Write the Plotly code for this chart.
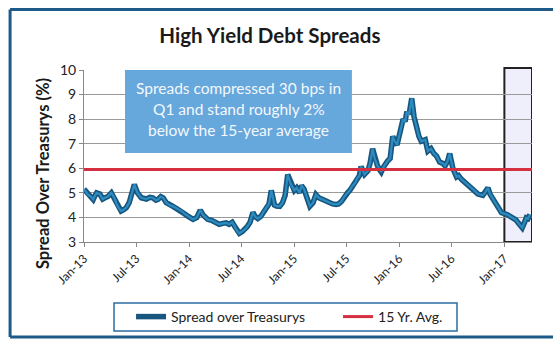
import plotly.graph_objects as go

# Weekly-ish high yield spread over Treasurys (%)
dates = [
    "2013-01-01", "2013-01-08", "2013-01-15", "2013-01-25", "2013-02-02", "2013-02-08",
    "2013-02-14", "2013-02-25", "2013-03-07", "2013-03-15", "2013-03-25", "2013-04-06",
    "2013-04-16", "2013-04-28", "2013-05-10", "2013-05-20", "2013-05-28", "2013-06-07",
    "2013-06-14", "2013-06-25", "2013-07-01", "2013-07-06", "2013-07-19", "2013-07-28",
    "2013-08-06", "2013-08-18", "2013-08-28", "2013-09-08", "2013-09-15", "2013-09-25",
    "2013-10-03", "2013-10-14", "2013-10-25", "2013-11-06", "2013-11-20", "2013-12-06",
    "2013-12-16", "2013-12-28", "2014-01-08", "2014-01-15", "2014-01-28", "2014-02-05",
    "2014-02-09", "2014-02-19", "2014-03-01", "2014-03-07", "2014-03-20", "2014-04-01",
    "2014-04-16", "2014-04-28", "2014-05-10", "2014-05-20", "2014-05-31", "2014-06-08",
    "2014-06-14", "2014-06-25", "2014-07-05", "2014-07-13", "2014-07-22", "2014-08-01",
    "2014-08-11", "2014-08-20", "2014-08-28", "2014-09-08", "2014-09-15", "2014-09-27",
    "2014-10-06", "2014-10-14", "2014-10-20", "2014-10-25", "2014-11-01", "2014-11-12",
    "2014-11-22", "2014-12-01", "2014-12-10", "2014-12-16", "2014-12-21", "2015-01-02",
    "2015-01-10", "2015-01-20", "2015-01-27", "2015-02-05", "2015-02-12", "2015-02-25",
    "2015-03-08", "2015-03-18", "2015-03-28", "2015-04-10", "2015-04-22", "2015-05-04",
    "2015-05-15", "2015-05-27", "2015-06-05", "2015-06-15", "2015-06-25", "2015-07-06",
    "2015-07-14", "2015-07-22", "2015-08-01", "2015-08-09", "2015-08-16", "2015-08-22",
    "2015-09-03", "2015-09-15", "2015-09-22", "2015-10-01", "2015-10-08", "2015-10-18",
    "2015-10-25", "2015-10-31", "2015-11-08", "2015-11-15", "2015-11-22", "2015-12-01",
    "2015-12-10", "2015-12-17", "2015-12-25", "2016-01-04", "2016-01-15", "2016-01-22",
    "2016-01-28", "2016-02-05", "2016-02-14", "2016-02-22", "2016-03-03", "2016-03-10",
    "2016-03-18", "2016-04-01", "2016-04-10", "2016-04-21", "2016-05-01", "2016-05-10",
    "2016-05-21", "2016-06-01", "2016-06-09", "2016-06-18", "2016-06-25", "2016-07-06",
    "2016-07-19", "2016-07-26", "2016-08-05", "2016-08-21", "2016-09-04", "2016-09-18",
    "2016-10-01", "2016-10-18", "2016-10-28", "2016-11-05", "2016-11-12", "2016-11-22",
    "2016-12-01", "2016-12-10", "2016-12-22", "2017-01-10", "2017-01-20", "2017-02-01",
    "2017-02-10", "2017-02-18", "2017-03-04", "2017-03-12", "2017-03-18", "2017-03-24",
    "2017-03-31",
]
spread = [
    5.15, 5.05, 4.93, 4.85, 4.73, 4.88,
    5.00, 4.95, 4.75, 4.80, 4.85, 5.00,
    4.80, 4.46, 4.26, 4.32, 4.40, 4.60,
    4.90, 5.34, 5.15, 5.00, 4.80, 4.78,
    4.75, 4.82, 4.80, 4.70, 4.73, 4.85,
    4.80, 4.60, 4.50, 4.45, 4.35, 4.26,
    4.15, 4.05, 3.98, 3.92, 4.00, 4.20,
    4.30, 4.10, 4.00, 3.92, 3.88, 3.80,
    3.72, 3.76, 3.78, 3.72, 3.80, 3.65,
    3.50, 3.35, 3.42, 3.50, 3.62, 3.80,
    4.20, 4.02, 3.95, 4.05, 4.20, 4.40,
    4.55, 5.10, 4.75, 4.50, 4.46, 4.45,
    4.60, 4.90, 5.74, 5.55, 5.35, 5.10,
    5.20, 5.00, 5.30, 5.15, 4.90, 4.46,
    4.60, 4.93, 4.80, 4.73, 4.65, 4.60,
    4.55, 4.53, 4.55, 4.65, 4.85, 5.00,
    5.10, 5.27, 5.40, 5.60, 5.70, 6.07,
    5.75, 5.90, 6.20, 6.80, 6.40, 6.10,
    5.95, 5.85, 6.05, 6.20, 6.30, 6.40,
    7.30, 7.10, 6.95, 7.45, 8.00, 7.90,
    8.30, 8.20, 8.85, 8.10, 7.60, 7.30,
    7.10, 7.16, 6.70, 6.80, 6.60, 6.50,
    6.25, 6.20, 6.10, 6.30, 6.60, 6.00,
    5.65, 5.70, 5.55, 5.40, 5.25, 5.10,
    4.95, 4.90, 5.05, 5.20, 4.95, 4.75,
    4.55, 4.39, 4.19, 4.12, 4.05, 3.98,
    3.90, 3.78, 3.58, 3.80, 3.98, 3.95,
    4.12,
]

avg_15yr = 5.95
x_range = ["2013-01-01", "2017-04-07"]
q1_start = "2017-01-01"
y_range = [3, 10]

callout_lines = [
    "Spreads compressed 30 bps in",
    "Q1 and stand roughly 2%",
    "below the 15-year average",
]

FONT = "Lato, 'Open Sans', sans-serif"
BLUE_DARK = "#18567f"
BLUE_CORE = "#2c8cc0"
RED = "#d5303f"
FRAME = "#1d5a87"

fig = go.Figure()

# Spread line: dark outline with a lighter core
fig.add_trace(go.Scatter(
    x=dates, y=spread, mode="lines", name="Spread over Treasurys",
    line=dict(color=BLUE_DARK, width=5.5),
))
fig.add_trace(go.Scatter(
    x=dates, y=spread, mode="lines", showlegend=False, hoverinfo="skip",
    line=dict(color=BLUE_CORE, width=2.2),
))
# 15-year average
fig.add_trace(go.Scatter(
    x=x_range, y=[avg_15yr, avg_15yr], mode="lines", name="15 Yr. Avg.",
    line=dict(color=RED, width=3),
))

# Highlighted Q1 2017 window
fig.add_shape(type="rect", xref="x", yref="paper", x0=q1_start, x1=x_range[1],
              y0=0, y1=1.012, fillcolor="rgba(228,228,248,0.6)",
              line=dict(color="#222222", width=2), layer="below")

# Callout box
fig.add_shape(type="rect", xref="paper", yref="paper", x0=0.0915, x1=0.598,
              y0=0.517, y1=1.0, fillcolor="#66a7dc", line=dict(width=0), layer="above")
for i, line_text in enumerate(callout_lines):
    fig.add_annotation(xref="paper", yref="paper", x=0.345, y=0.895 - i * 0.122,
                       text=line_text, showarrow=False, xanchor="center", yanchor="middle",
                       font=dict(family=FONT, size=15.5, color="#f4f8fc"))

# Y axis title, centred below the plot middle
fig.add_annotation(xref="paper", yref="paper", x=-0.0915, y=0.395,
                   text="<b>Spread Over Treasurys (%)</b>", showarrow=False, textangle=-90,
                   xanchor="center", yanchor="middle",
                   font=dict(family=FONT, size=16.5, color="#1a1a1a"))

# Legend frame
fig.add_shape(type="rect", xref="paper", yref="paper", x0=0.067, x1=0.8326,
              y0=-0.5174, y1=-0.3547, line=dict(color="#2b6ca3", width=1.5),
              fillcolor="white", layer="below")

# Outer frame: left, top and bottom edges (right edge runs off the page)
fig.add_shape(type="line", xref="paper", yref="paper", x0=-0.165, x1=-0.165,
              y0=-0.552, y1=1.352, line=dict(color=FRAME, width=3))
fig.add_shape(type="line", xref="paper", yref="paper", x0=-0.165, x1=1.1,
              y0=1.352, y1=1.352, line=dict(color=FRAME, width=3))
fig.add_shape(type="line", xref="paper", yref="paper", x0=-0.165, x1=1.1,
              y0=-0.552, y1=-0.552, line=dict(color=FRAME, width=3))

fig.update_layout(
    width=553, height=339,
    margin=dict(l=84, r=21, t=70, b=97, autoexpand=False),
    paper_bgcolor="white", plot_bgcolor="white",
    font=dict(family=FONT, color="#222222"),
    title=dict(text="<b>High Yield Debt Spreads</b>", x=0.488, xanchor="center",
               y=0.894, yanchor="middle", font=dict(family=FONT, size=20.5, color="#1a1a1a")),
    showlegend=True,
    legend=dict(orientation="h", x=0.105, y=-0.436, xanchor="left", yanchor="middle",
                borderwidth=0, bgcolor="rgba(0,0,0,0)",
                font=dict(family=FONT, size=14, color="#222222"),
                itemwidth=30, entrywidth=162, tracegroupgap=0),
)

fig.update_xaxes(
    type="date", range=x_range, tick0="2013-01-01", dtick="M6", tickformat="%b-%y",
    tickangle=-45, ticks="outside", ticklen=4, tickcolor="#888888", automargin=False,
    showline=True, linecolor="#888888", linewidth=1, showgrid=False,
    tickfont=dict(family=FONT, size=12, color="#222222"),
)
fig.update_yaxes(
    range=y_range, dtick=1, ticks="outside", ticklen=4, tickcolor="#888888", automargin=False,
    showline=True, linecolor="#888888", linewidth=1,
    showgrid=True, gridcolor="#9a9a9a", gridwidth=1, zeroline=False,
    tickfont=dict(family=FONT, size=14, color="#222222"),
)

fig.write_html("out.html")
